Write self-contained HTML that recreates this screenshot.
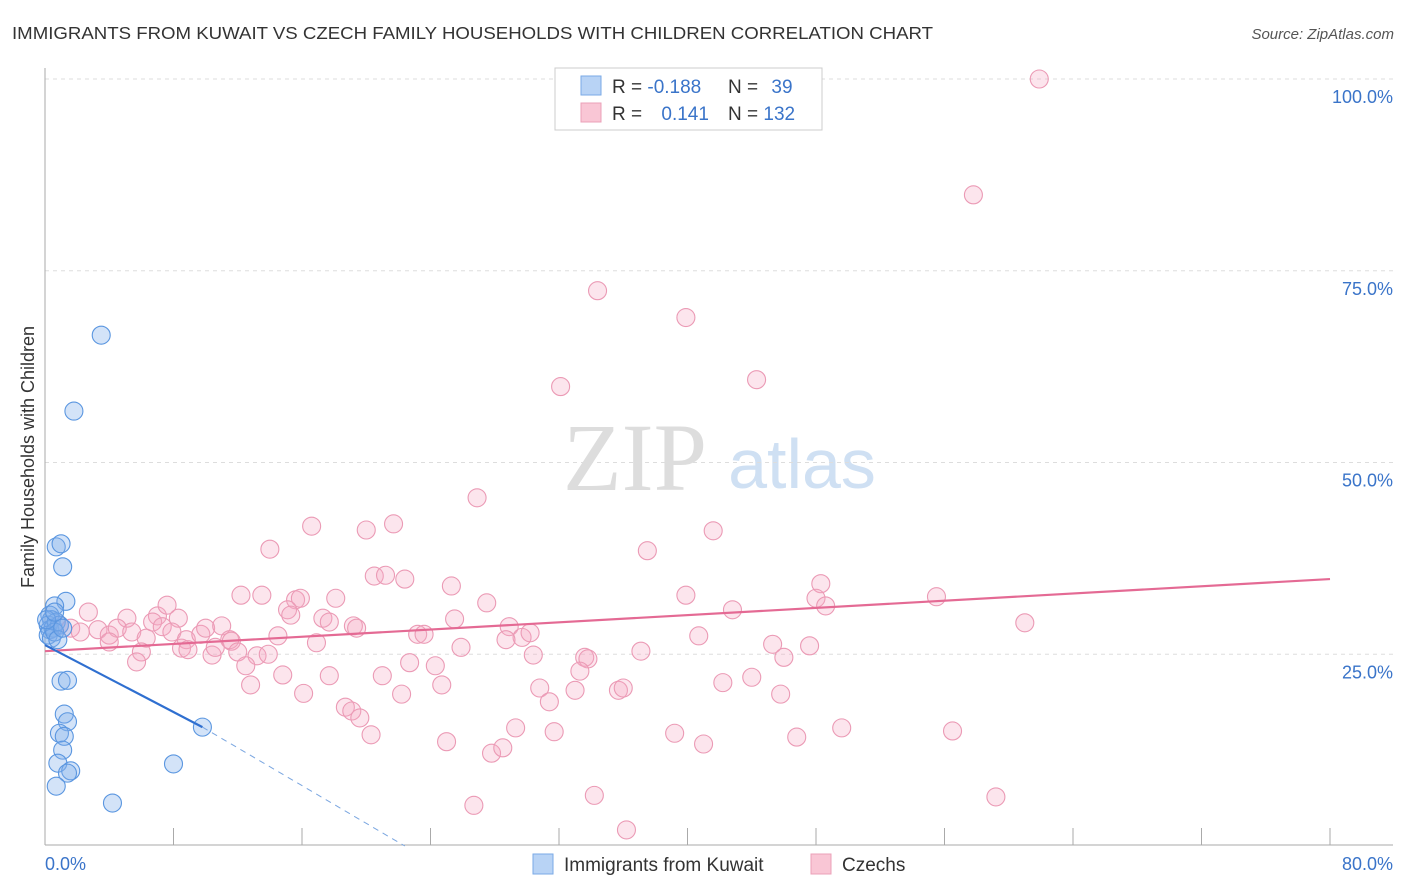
<!DOCTYPE html>
<html><head><meta charset="utf-8"><style>
body{margin:0;background:#fff;font-family:"Liberation Sans",sans-serif;}
</style></head><body>
<svg id="chart" width="1406" height="892" xmlns="http://www.w3.org/2000/svg" style="display:block">
<text x="12" y="39" font-size="17.5" fill="#333" textLength="921" lengthAdjust="spacingAndGlyphs">IMMIGRANTS FROM KUWAIT VS CZECH FAMILY HOUSEHOLDS WITH CHILDREN CORRELATION CHART</text>
<text x="1394" y="39" font-size="15" fill="#555" text-anchor="end" font-style="italic">Source: ZipAtlas.com</text>
<g>
<text x="635" y="490" font-size="96" fill="#ddd" font-family="Liberation Serif,serif" text-anchor="middle">ZIP</text>
<text x="802" y="488" font-size="70" fill="#cfe0f3" text-anchor="middle">atlas</text>
</g>
<g id="grid"></g>
<g id="axes"></g>
<g id="marks"></g>
<text transform="translate(34,457) rotate(-90)" font-size="18" fill="#333" text-anchor="middle">Family Households with Children</text>
<g>
<rect x="555" y="68" width="267" height="62" fill="#fff" stroke="#ccc"/>
<rect x="581" y="76" width="20" height="19" fill="#b8d3f5" stroke="#7aaae6"/>
<rect x="581" y="103" width="20" height="19" fill="#f9c6d5" stroke="#eba0b8"/>
<text x="612" y="93" font-size="19" fill="#333">R = <tspan fill="#3a74c9">-0.188</tspan></text>
<text x="728" y="93" font-size="19" fill="#333">N = <tspan fill="#3a74c9" dx="8">39</tspan></text>
<text x="612" y="120" font-size="19" fill="#333">R = <tspan fill="#3a74c9" dx="14">0.141</tspan></text>
<text x="728" y="120" font-size="19" fill="#333">N = <tspan fill="#3a74c9">132</tspan></text>
</g>
<g>
<rect x="533" y="854" width="20" height="20" fill="#b8d3f5" stroke="#7aaae6"/>
<text x="564" y="871" font-size="19" fill="#333">Immigrants from Kuwait</text>
<rect x="811" y="854" width="20" height="20" fill="#f9c6d5" stroke="#eba0b8"/>
<text x="842" y="871" font-size="19" fill="#333">Czechs</text>
</g>
</svg>
<script>
const yTicks=[25,50,75,100];
const yTickLabels=["25.0%","50.0%","75.0%","100.0%"];
const xTicks=[0,8,16,24,32,40,48,56,64,72,80];
const xEndLabels=["0.0%","80.0%"];
const kuwaitX=[3.5,1.8,0.7,1.0,1.1,1.3,0.6,0.3,0.4,0.2,0.3,0.5,0.7,0.9,0.2,0.4,0.6,0.8,1.1,0.1,0.6,1.0,1.4,1.2,1.4,0.9,1.2,1.1,0.8,1.6,1.4,0.7,4.2,8.0,9.8];
const kuwaitY=[66.6,56.7,39.0,39.4,36.4,31.9,31.3,30.1,29.5,28.8,28.2,28.4,29.2,28.8,27.5,27.1,27.9,26.9,28.4,29.5,30.5,21.5,21.6,17.2,16.2,14.7,14.3,12.5,10.8,9.8,9.5,7.8,5.6,10.7,15.5];
const czechX=[61.9,57.8,34.4,39.9,44.3,32.1,26.9,16.6,20.0,21.7,41.6,37.5,14.0,20.5,21.2,22.4,25.3,48.3,12.2,13.5,15.6,15.9,18.1,27.5,39.9,48.0,48.6,55.5,2.7,5.1,7.0,7.6,8.3,15.1,15.3,17.3,19.2,25.5,28.9,42.8,61.0,0.9,1.6,2.2,3.3,4.0,4.5,5.4,6.3,6.7,7.3,7.9,8.8,9.7,10.0,11.0,11.5,14.5,17.7,19.4,23.2,23.6,29.7,30.2,40.7,4.0,6.0,8.5,8.9,10.4,10.6,11.6,12.0,13.2,13.9,16.9,25.9,28.7,30.4,37.1,45.3,46.0,47.6,5.7,12.5,14.8,22.7,24.3,21.0,17.7,33.6,33.8,33.3,44.0,12.8,16.1,22.2,24.7,30.8,31.4,33.0,35.7,36.0,42.2,45.8,18.7,19.1,19.6,20.3,25.0,27.8,28.5,29.3,31.7,39.2,41.0,46.8,49.6,56.5,26.7,34.2,36.2,59.2];
const czechY=[100.0,84.9,72.4,68.9,60.8,59.9,45.4,41.7,41.2,42.0,41.1,38.5,38.7,35.2,35.3,34.8,33.9,34.2,32.7,32.7,32.1,32.3,32.3,31.7,32.7,32.3,31.3,32.5,30.5,29.7,30.0,31.4,29.7,30.8,30.1,29.7,28.7,29.6,28.6,30.8,29.1,28.8,28.4,27.9,28.2,27.5,28.4,27.9,27.1,29.2,28.6,27.9,26.9,27.6,28.4,28.7,26.9,27.4,29.2,28.4,27.6,27.6,27.2,27.8,27.4,26.6,25.3,25.8,25.6,24.9,25.9,26.7,25.3,24.8,25.0,26.5,25.9,26.9,24.9,25.4,26.3,24.6,26.1,24.0,23.5,22.3,23.9,23.5,22.2,22.2,24.6,24.4,22.8,22.0,21.0,19.9,19.8,21.0,20.6,18.8,20.3,20.3,20.6,21.3,19.8,18.1,17.6,16.7,14.5,13.6,12.1,12.8,15.4,14.9,14.7,13.3,14.2,15.4,15.0,5.3,6.6,2.1,6.4];
const czechTrend=[25.4,34.8];
const kuwaitTrend=[26.2,15.5,9.8,22.4];
const X0=45,X1=1330,Y0=846,Y100=79;
const sx=v=>X0+(X1-X0)*v/80;
const sy=v=>Y0-(Y0-Y100)*v/100;
const NS="http://www.w3.org/2000/svg";
function mk(tag,attrs,parent){const e=document.createElementNS(NS,tag);for(const k in attrs)e.setAttribute(k,attrs[k]);parent.appendChild(e);return e;}
const grid=document.getElementById('grid'),axes=document.getElementById('axes'),marks=document.getElementById('marks');
yTicks.forEach((t,i)=>{
 const l=mk('line',{x1:X0,x2:1393,y1:sy(t),y2:sy(t),stroke:'#ddd','stroke-dasharray':'4,4'},grid);
 
 
 const tx=mk('text',{x:1393,y:sy(t)+24,'font-size':18,fill:'#3a74c9','text-anchor':'end'},axes);
 tx.textContent=yTickLabels[i];
 
 
});
const ya=mk('line',{x1:X0,x2:X0,y1:68,y2:845,stroke:'#aaa'},axes);


const xa=mk('line',{x1:X0,x2:1393,y1:845,y2:845,stroke:'#aaa'},axes);


xTicks.forEach(t=>{
 const l=mk('line',{x1:sx(t),x2:sx(t),y1:828,y2:845,stroke:'#aaa'},axes);
 
 
});
const xl0=mk('text',{x:45,y:870,'font-size':18,fill:'#3a74c9'},axes);xl0.textContent=xEndLabels[0];


const xl1=mk('text',{x:1393,y:870,'font-size':18,fill:'#3a74c9','text-anchor':'end'},axes);xl1.textContent=xEndLabels[1];


czechX.forEach((x,i)=>{
 const c=mk('circle',{cx:sx(x),cy:sy(czechY[i]),r:9,fill:'rgba(246,170,196,0.3)',stroke:'#eb9ab5','stroke-width':1.1},marks);
 
 
});
kuwaitX.forEach((x,i)=>{
 const c=mk('circle',{cx:sx(x),cy:sy(kuwaitY[i]),r:9,fill:'rgba(130,175,235,0.35)',stroke:'#5a96e0','stroke-width':1.1},marks);
 
 
});
const ct=mk('line',{x1:sx(0),y1:sy(czechTrend[0]),x2:sx(80),y2:sy(czechTrend[1]),stroke:'#e46a94','stroke-width':2.2},marks);


const kt=mk('line',{x1:sx(0),y1:sy(kuwaitTrend[0]),x2:sx(kuwaitTrend[2]),y2:sy(kuwaitTrend[1]),stroke:'#2f6fd0','stroke-width':2.2},marks);


const kd=mk('line',{x1:sx(kuwaitTrend[2]),y1:sy(kuwaitTrend[1]),x2:sx(kuwaitTrend[3]),y2:sy(0),stroke:'#7aa6e0','stroke-width':1,'stroke-dasharray':'6,5'},marks);


</script>
</body></html>
